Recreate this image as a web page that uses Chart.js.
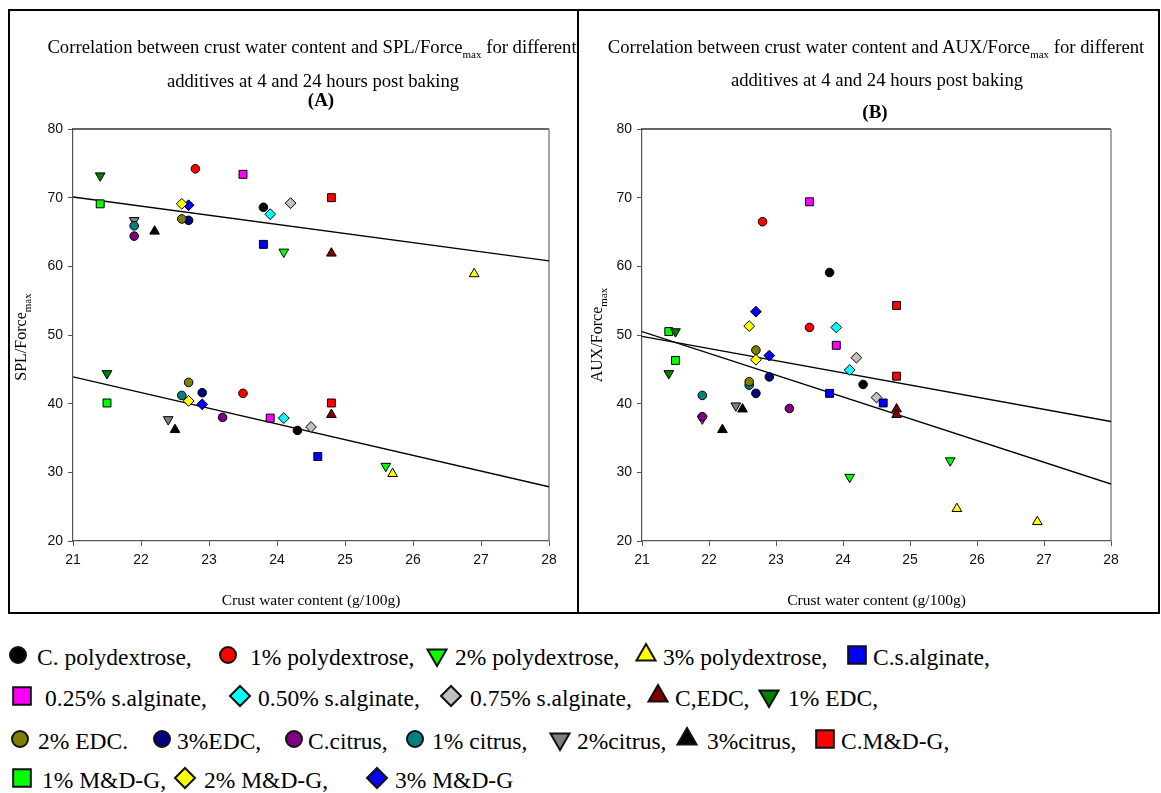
<!DOCTYPE html>
<html>
<head>
<meta charset="utf-8">
<title>Crust water content correlations</title>
<script src="https://cdn.jsdelivr.net/npm/chart.js@4.4.1/dist/chart.umd.min.js"></script>
<style>
  body { margin: 0; background: #fff; }
  #page { position: relative; width: 1161px; height: 793px; overflow: hidden;
          font-family: 'Liberation Serif', 'Times New Roman', serif; color: #000; }
  .frame { position: absolute; left: 8px; top: 9px; width: 1152px; height: 605px;
           border: 2px solid #000; box-sizing: border-box; }
  .divider { position: absolute; left: 577px; top: 9px; width: 2px; height: 605px; background: #000; }
  canvas.chart { position: absolute; top: 100px; }
  .t { position: absolute; font-size: 18.7px; white-space: nowrap; line-height: 1;
       transform: translate(-50%, -50%); }
  .t b { font-size: 19px; }
  sub { font-size: 11px; vertical-align: -5px; line-height: 0; }
  .yl { position: absolute; font-size: 16px; white-space: nowrap; line-height: 1;
        transform: translate(-50%, -50%) rotate(-90deg); }
  .lg { position: absolute; left: 0; width: 1161px; height: 0; font-size: 23.5px; }
  .lg span { position: absolute; top: 0; white-space: nowrap; line-height: 1; transform: translateY(-50%); }
  .lg canvas { position: absolute; top: -17px; }
</style>
</head>
<body>
<div id="page">
  <canvas class="chart" id="chartSPL" width="568" height="512" style="left:10px"></canvas>
  <canvas class="chart" id="chartAUX" width="578" height="512" style="left:580px"></canvas>
  <div class="frame"></div>
  <div class="divider"></div>

  <div class="t" style="left:312px;top:47px">Correlation between crust water content and SPL/Force<sub>max</sub> for different</div>
  <div class="t" style="left:313px;top:81px">additives at 4 and 24 hours post baking</div>
  <div class="t" style="left:321px;top:100px"><b>(A)</b></div>
  <div class="yl" style="left:21px;top:337px">SPL/Force<sub>max</sub></div>

  <div class="t" style="left:876px;top:47px">Correlation between crust water content and AUX/Force<sub>max</sub> for different</div>
  <div class="t" style="left:877px;top:80px">additives at 4 and 24 hours post baking</div>
  <div class="t" style="left:875px;top:112px"><b>(B)</b></div>
  <div class="yl" style="left:597px;top:335px">AUX/Force<sub>max</sub></div>

  <div class="lg" style="top:658px">
    <canvas width="28" height="28" data-i="0" style="left:4px"></canvas><span style="left:37px">C. polydextrose,</span>
    <canvas width="28" height="28" data-i="1" style="left:214px"></canvas><span style="left:250px">1% polydextrose,</span>
    <canvas width="28" height="28" data-i="2" style="left:423px"></canvas><span style="left:455px">2% polydextrose,</span>
    <canvas width="28" height="28" data-i="3" style="left:632px"></canvas><span style="left:663px">3% polydextrose,</span>
    <canvas width="28" height="28" data-i="4" style="left:843px"></canvas><span style="left:873px">C.s.alginate,</span>
  </div>
  <div class="lg" style="top:699px">
    <canvas width="28" height="28" data-i="5" style="left:8px"></canvas><span style="left:45px">0.25% s.alginate,</span>
    <canvas width="28" height="28" data-i="6" style="left:226px"></canvas><span style="left:258px">0.50% s.alginate,</span>
    <canvas width="28" height="28" data-i="7" style="left:437px"></canvas><span style="left:470px">0.75% s.alginate,</span>
    <canvas width="28" height="28" data-i="8" style="left:644px"></canvas><span style="left:675px">C,EDC,</span>
    <canvas width="28" height="28" data-i="9" style="left:755px"></canvas><span style="left:788px">1% EDC,</span>
  </div>
  <div class="lg" style="top:742px">
    <canvas width="28" height="28" data-i="10" style="left:6px"></canvas><span style="left:38px">2% EDC.</span>
    <canvas width="28" height="28" data-i="11" style="left:148px"></canvas><span style="left:177px">3%EDC,</span>
    <canvas width="28" height="28" data-i="12" style="left:280px"></canvas><span style="left:308px">C.citrus,</span>
    <canvas width="28" height="28" data-i="13" style="left:401px"></canvas><span style="left:432px">1% citrus,</span>
    <canvas width="28" height="28" data-i="14" style="left:546px"></canvas><span style="left:577px">2%citrus,</span>
    <canvas width="28" height="28" data-i="15" style="left:673px"></canvas><span style="left:707px">3%citrus,</span>
    <canvas width="28" height="28" data-i="16" style="left:811px"></canvas><span style="left:841px">C.M&amp;D-G,</span>
  </div>
  <div class="lg" style="top:781px">
    <canvas width="28" height="28" data-i="17" style="left:8px"></canvas><span style="left:42px">1% M&amp;D-G,</span>
    <canvas width="28" height="28" data-i="18" style="left:171px"></canvas><span style="left:204px">2% M&amp;D-G,</span>
    <canvas width="28" height="28" data-i="19" style="left:363px"></canvas><span style="left:395px">3% M&amp;D-G</span>
  </div>
</div>

<script>
// additives, in legend order
const additives = ['C. polydextrose', '1% polydextrose', '2% polydextrose', '3% polydextrose', 'C.s.alginate',
  '0.25% s.alginate', '0.50% s.alginate', '0.75% s.alginate', 'C,EDC', '1% EDC',
  '2% EDC', '3%EDC', 'C.citrus', '1% citrus', '2%citrus', '3%citrus', 'C.M&D-G',
  '1% M&D-G', '2% M&D-G', '3% M&D-G'];

// crust water content (g/100g), two measurements per additive
const crust1 = [23.8, 22.8, 24.1, 26.9, 23.8, 23.5, 23.9, 24.2, 24.8, 21.4,
  22.6, 22.7, 21.9, 21.9, 21.9, 22.2, 24.8, 21.4, 22.6, 22.7];
const crust2 = [24.3, 23.5, 25.6, 25.7, 24.6, 23.9, 24.1, 24.5, 24.8, 21.5,
  22.7, 22.9, 23.2, 22.6, 22.4, 22.5, 24.8, 21.5, 22.7, 22.9];

// SPL/Force_max at crust1 and crust2
const spl1 = [68.6, 74.2, 62.1, 58.9, 63.2, 73.4, 67.6, 69.2, 61.9, 73.2,
  66.9, 66.7, 64.4, 65.9, 66.7, 65.1, 70.0, 69.1, 69.1, 68.9];
const spl2 = [36.1, 41.5, 30.9, 29.8, 32.3, 37.9, 37.9, 36.6, 38.4, 44.4,
  43.1, 41.6, 38.0, 41.2, 37.7, 36.2, 40.1, 40.1, 40.4, 39.9];

// AUX/Force_max at crust1 and crust2
const aux1 = [59.1, 66.5, 29.3, 22.8, 41.5, 69.4, 51.1, 46.7, 39.2, 44.4,
  43.2, 41.5, 38.1, 41.2, 37.8, 36.2, 54.3, 50.5, 51.3, 53.4];
const aux2 = [42.8, 51.1, 31.7, 24.7, 40.1, 48.5, 44.9, 40.9, 38.4, 50.5,
  47.8, 43.9, 39.3, 42.7, 39.7, 39.2, 44.0, 46.3, 46.4, 47.0];

// linear trend lines, value at each end of the x range
const trendX = [21, 28];
const splTrends = [[70.1, 60.8], [43.9, 27.9]];
const auxTrends = [[50.5, 28.3], [49.8, 37.4]];

const xRange = [21, 28];
const yRange = [20, 80];

// marker look per additive
const fills = ['#000000', '#ff0000', '#00ff00', '#ffff00', '#0000ff', '#ff00ff', '#00ffff', '#c0c0c0', '#800000', '#008000',
  '#808000', '#000080', '#800080', '#008080', '#808080', '#000000', '#ff0000', '#00ff00', '#ffff00', '#0000ff'];
const shapes = ['circle', 'circle', 'down', 'up', 'square', 'square', 'diamond', 'diamond', 'up', 'down',
  'circle', 'circle', 'circle', 'circle', 'down', 'up', 'square', 'square', 'diamond', 'diamond'];

const shapeStyle = {
  circle:  { pointStyle: 'circle',   rotation: 0,   radius: 4.3, legendRadius: 8 },
  square:  { pointStyle: 'rect',     rotation: 0,   radius: 5.6, legendRadius: 12.5 },
  diamond: { pointStyle: 'rectRot',  rotation: 0,   radius: 5.4, legendRadius: 10 },
  up:      { pointStyle: 'triangle', rotation: 0,   radius: 5.6, legendRadius: 11 },
  down:    { pointStyle: 'triangle', rotation: 180, radius: 5.6, legendRadius: 11 }
};

function buildDatasets(ys1, ys2, trends) {
  const sets = additives.map((name, i) => {
    const s = shapeStyle[shapes[i]];
    return {
      label: name,
      data: [{ x: crust1[i], y: ys1[i] }, { x: crust2[i], y: ys2[i] }],
      pointStyle: s.pointStyle,
      pointRotation: s.rotation,
      pointRadius: s.radius,
      backgroundColor: fills[i],
      borderColor: '#000',
      borderWidth: 1,
      order: 0
    };
  });
  trends.forEach(t => {
    sets.push({
      label: 'trend',
      data: trendX.map((x, k) => ({ x: x, y: t[k] })),
      showLine: true,
      pointRadius: 0,
      borderColor: '#000',
      borderWidth: 1.4,
      order: 1
    });
  });
  return sets;
}

// top and right edges of the plot box
const plotFrame = {
  id: 'plotFrame',
  beforeDatasetsDraw(chart) {
    const { ctx, chartArea: a } = chart;
    ctx.save();
    ctx.lineWidth = 1.5;
    ctx.strokeStyle = '#333';
    ctx.beginPath();
    ctx.moveTo(a.left, a.top);
    ctx.lineTo(a.right, a.top);
    ctx.stroke();
    ctx.strokeStyle = '#888';
    ctx.beginPath();
    ctx.moveTo(a.right, a.top);
    ctx.lineTo(a.right, a.bottom);
    ctx.stroke();
    ctx.restore();
  }
};

function makeChart(id, ys1, ys2, trends, yWidth, rightPad) {
  const tickFont = { family: "'Liberation Sans', Arial, sans-serif", size: 14 };
  return new Chart(document.getElementById(id), {
    type: 'scatter',
    data: { datasets: buildDatasets(ys1, ys2, trends) },
    plugins: [plotFrame],
    options: {
      responsive: false,
      devicePixelRatio: 1,
      animation: false,
      layout: { padding: { left: 0, right: rightPad, top: 29, bottom: 0 } },
      plugins: { legend: { display: false }, tooltip: { enabled: false } },
      scales: {
        x: {
          type: 'linear', min: xRange[0], max: xRange[1],
          ticks: { stepSize: 1, color: '#111', font: tickFont, padding: 6 },
          grid: { drawOnChartArea: false, tickLength: 5, color: '#555' },
          border: { color: '#555', width: 1.2 },
          title: {
            display: true, text: 'Crust water content (g/100g)', color: '#000',
            font: { family: "'Liberation Serif', 'Times New Roman', serif", size: 15.5 },
            padding: { top: 0, bottom: 2 }
          },
          afterFit(scale) { scale.height = 71; }
        },
        y: {
          type: 'linear', min: yRange[0], max: yRange[1],
          ticks: { stepSize: 10, color: '#111', font: tickFont, padding: 5 },
          grid: { drawOnChartArea: false, tickLength: 5, color: '#555' },
          border: { color: '#555', width: 1.2 },
          afterFit(scale) { scale.width = yWidth; }
        }
      }
    }
  });
}

makeChart('chartSPL', spl1, spl2, splTrends, 63, 29);
makeChart('chartAUX', aux1, aux2, auxTrends, 62, 47);

// legend markers
document.querySelectorAll('.lg canvas').forEach(cv => {
  const i = +cv.dataset.i;
  const s = shapeStyle[shapes[i]];
  const ctx = cv.getContext('2d');
  ctx.fillStyle = fills[i];
  ctx.strokeStyle = '#111';
  ctx.lineWidth = 2;
  const opts = { pointStyle: s.pointStyle, rotation: s.rotation, radius: s.legendRadius, borderWidth: 2 };
  if (Chart.helpers && Chart.helpers.drawPoint) {
    Chart.helpers.drawPoint(ctx, opts, 14, 14);
  } else {
    ctx.beginPath();
    ctx.arc(14, 14, 8, 0, Math.PI * 2);
    ctx.fill();
    ctx.stroke();
  }
});
</script>
</body>
</html>
